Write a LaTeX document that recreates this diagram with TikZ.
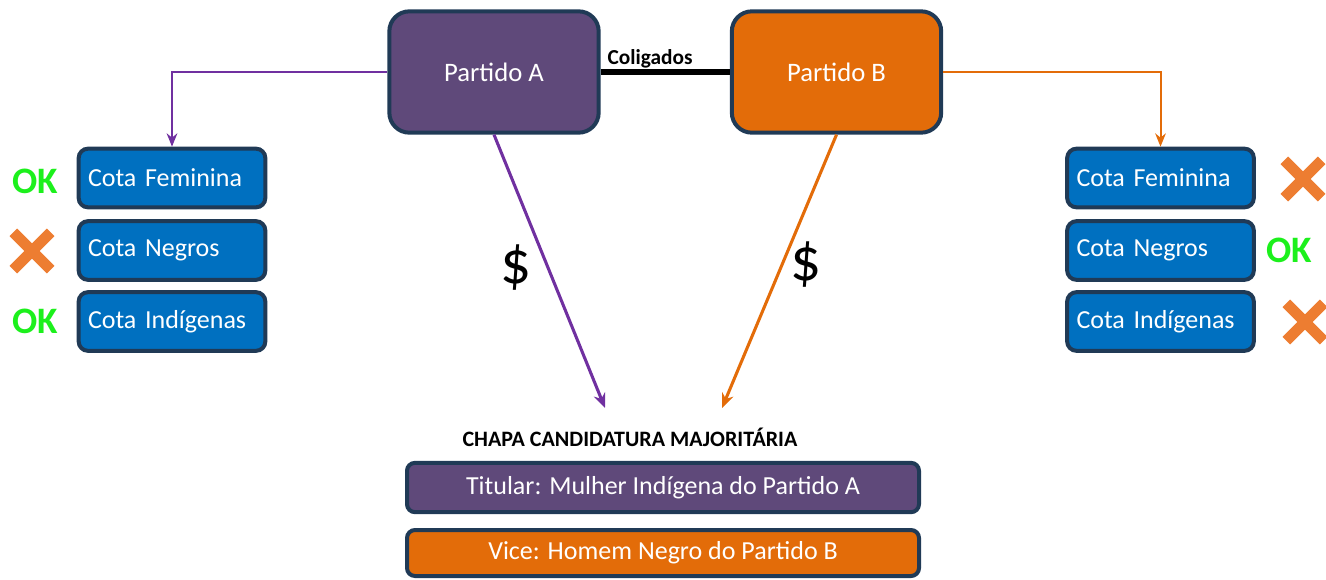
\documentclass[tikz,border=0pt]{standalone}
\usepackage{fontspec}
\setmainfont{Carlito}
\usetikzlibrary{shapes.misc}
\usetikzlibrary{arrows.meta}
\definecolor{roxo}{HTML}{5F497A}
\definecolor{laranja}{HTML}{E36C09}
\definecolor{azul}{HTML}{0070C0}
\definecolor{borda}{HTML}{203A56}
\definecolor{roxoseta}{HTML}{7030A0}
\definecolor{verde}{HTML}{1CF01C}
\definecolor{xlaranja}{HTML}{ED7D31}
\tikzset{
    partido/.style = {rectangle, rounded corners=15pt, line width=3pt, draw=borda, minimum width=157pt, minimum height=91pt, text=white, font=\fontsize{20}{24}\selectfont},
    cota/.style = {rectangle, rounded corners=7pt, line width=3pt, draw=borda, fill=azul, text=white, text width=126pt, align=left, inner xsep=7pt, minimum height=44pt, font=\fontsize{19.5}{23}\selectfont},
    chapa/.style = {rectangle, rounded corners=6pt, line width=3pt, draw=borda, text=white, minimum width=384pt, font=\fontsize{19.5}{23}\selectfont},
    ok/.style = {text=verde, font=\fontsize{28}{30}\selectfont\bfseries},
    nao/.style = {cross out, draw=xlaranja, line width=8pt, minimum size=20pt, inner sep=0pt},
    dinheiro/.style = {font=\fontsize{46}{48}\selectfont},
    edgea/.style = {-{Stealth[length=10pt,width=8pt]},line width=1.5pt,roxoseta},
    edgeb/.style = {-{Stealth[length=10pt,width=8pt]},line width=1.5pt,laranja},
    edgead/.style = {-{Stealth[length=11pt,width=9pt]},line width=2.3pt,roxoseta}, % verba
    edgebd/.style = {-{Stealth[length=11pt,width=9pt]},line width=2.3pt,laranja}, % verba
}

\begin{document}
\begin{tikzpicture}[x=0.75pt,y=-0.75pt]
\useasboundingbox (0,0) rectangle (1326,579);
%
\node[partido, fill=roxo] at (494,72) (pa) {Partido A};
\node[partido, fill=laranja] at (836.5,72) (pb) {Partido B};
\node[font=\fontsize{16}{18}\selectfont\bfseries] at (650,59) (colig) {Coligados};
%
\node[cota] at (172,178) (lfem) {Cota Feminina};
\node[cota] at (172,250.5) (lneg) {Cota Negros};
\node[cota] at (172,321.5) (lind) {Cota Indígenas};
\node[cota] at (1160.5,178) (rfem) {Cota Feminina};
\node[cota] at (1160.5,250.5) (rneg) {Cota Negros};
\node[cota] at (1160.5,321.5) (rind) {Cota Indígenas};
%
\node[ok] at (35,181) (okl1) {OK};
\node[nao] at (32,251) (naol) {};
\node[ok] at (35,321) (okl2) {OK};
\node[nao] at (1303,179) (naor1) {};
\node[ok] at (1289,250) (okr) {OK};
\node[nao] at (1305,322) (naor2) {};
%
\node[dinheiro] at (516,268) (da) {\$};
\node[dinheiro] at (806,265) (db) {\$};
\coordinate (ta) at (605,408);
\coordinate (tb) at (722,408);
%
\node[font=\fontsize{16.5}{18}\selectfont\bfseries] at (630,437) (titulo) {CHAPA CANDIDATURA MAJORITÁRIA};
\node[chapa, fill=roxo, minimum height=37pt] at (663,487.5) (tit) {Titular: Mulher Indígena do Partido A};
\node[chapa, fill=laranja, minimum height=34.5pt] at (663,553) (vice) {Vice: Homem Negro do Partido B};
%
\draw[line width=4.5pt] (pa.east) -- (pb.west);
\draw[edgea] (pa.west) -| (lfem.north);
\draw[edgeb] (pb.east) -| (rfem.north);
\draw[edgead] (pa.south) -- (ta);
\draw[edgebd] (pb.south) -- (tb);
\end{tikzpicture}
\end{document}
